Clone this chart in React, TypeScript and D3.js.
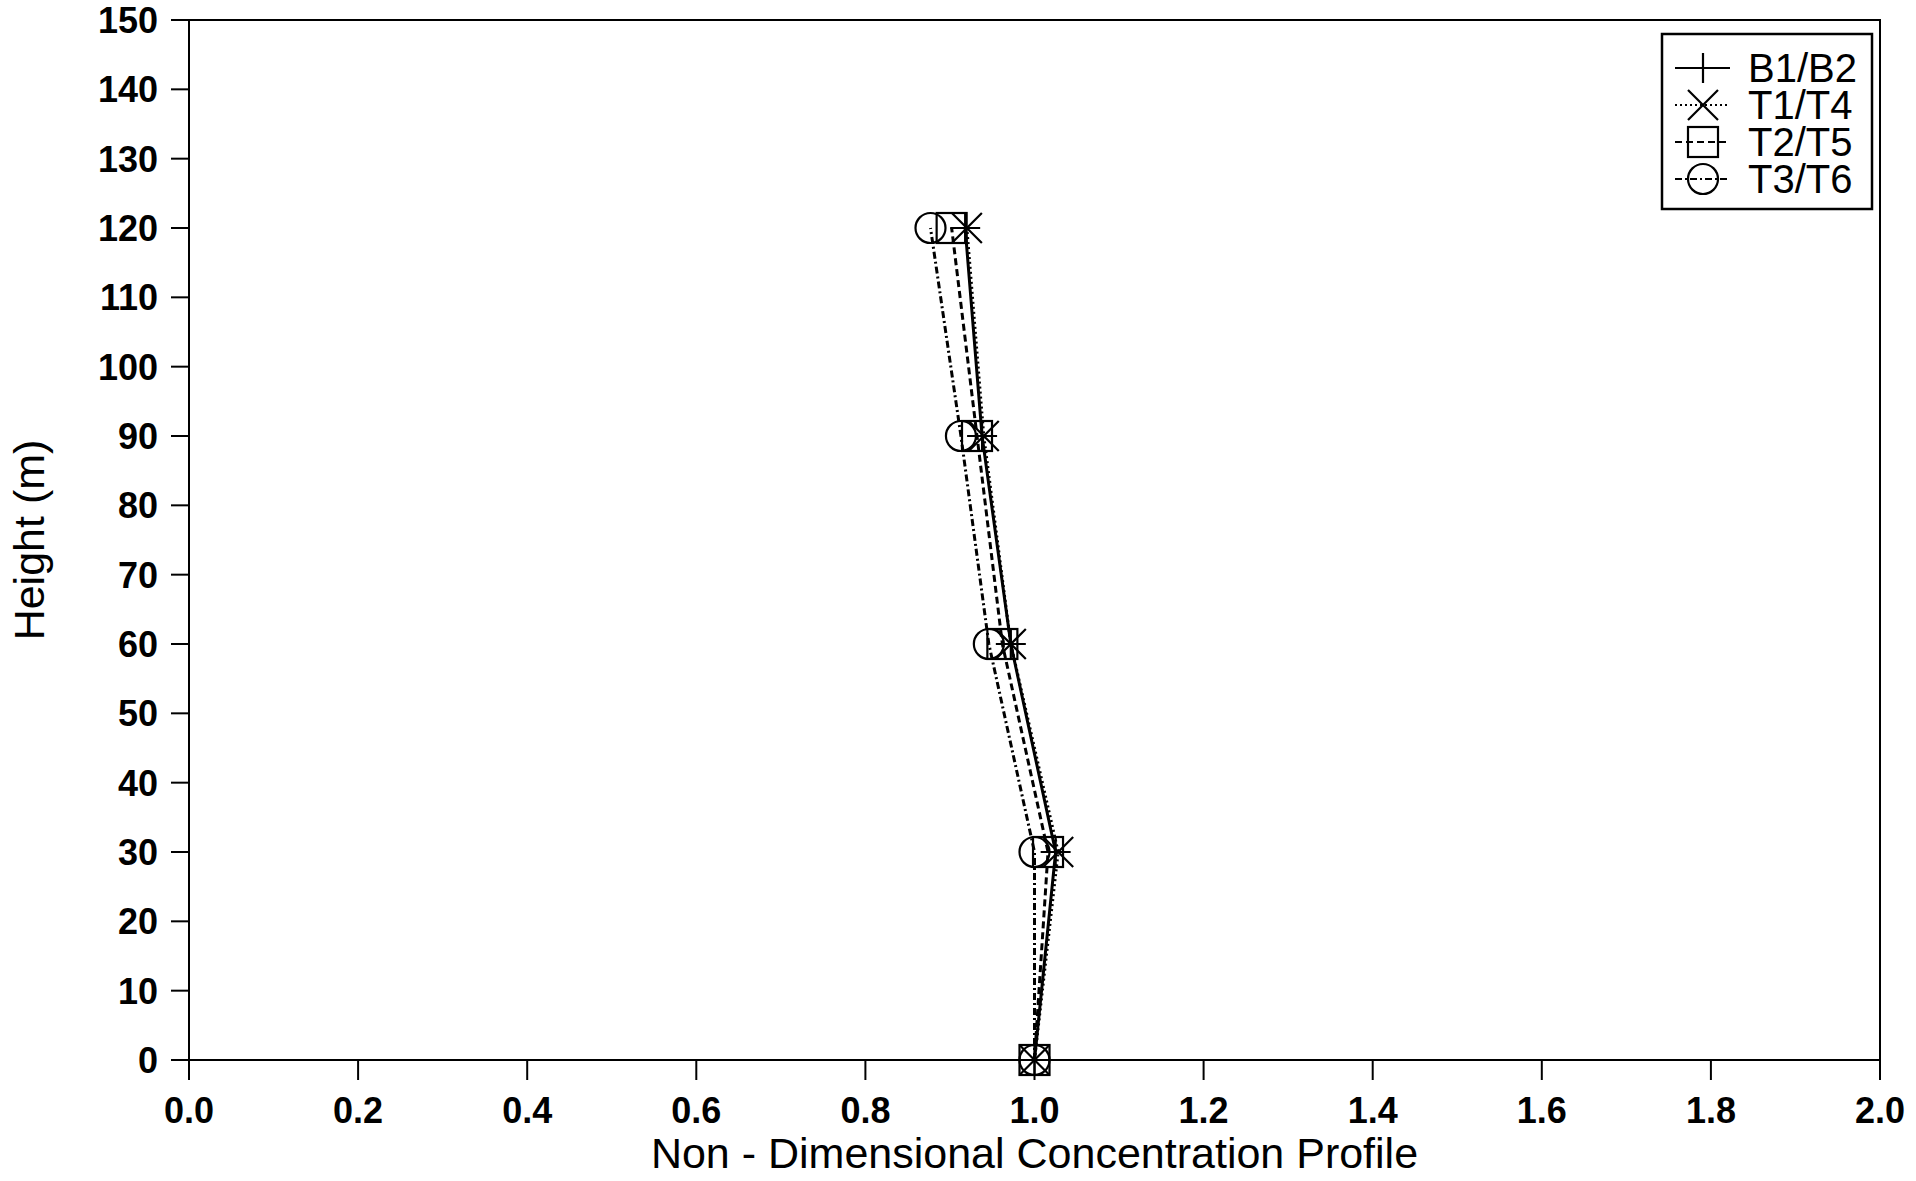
import * as d3 from "d3";

const heights = [0, 30, 60, 90, 120];
const b1b2 = [1.0, 1.025, 0.972, 0.938, 0.918];
const t1t4 = [1.0, 1.028, 0.972, 0.94, 0.92];
const t2t5 = [1.0, 1.016, 0.962, 0.932, 0.902];
const t3t6 = [1.0, 1.0, 0.946, 0.913, 0.877];

const seriesNames = ["B1/B2", "T1/T4", "T2/T5", "T3/T6"];
const seriesValues = [b1b2, t1t4, t2t5, t3t6];
const markers = ["plus", "cross", "square", "circle"];
const dashes = ["none", "2,3", "7,4", "7,3,2,3"];

const xTicks = d3.range(0, 2.01, 0.2);
const yTicks = d3.range(0, 151, 10);

const W = 1916;
const H = 1181;
const left = 189, right = 1880, top = 20, bottom = 1060;
const font = "'Liberation Sans', Arial, sans-serif";

function Marker({ kind, x, y }: { kind: string; x: number; y: number }) {
  const r = 15;
  const st = { stroke: "#000", strokeWidth: 2.2, fill: "none" };
  if (kind === "plus")
    return <path d={`M${x - r},${y}H${x + r}M${x},${y - r}V${y + r}`} {...st} />;
  if (kind === "cross")
    return <path d={`M${x - r},${y - r}L${x + r},${y + r}M${x - r},${y + r}L${x + r},${y - r}`} {...st} />;
  if (kind === "square")
    return <rect x={x - r} y={y - r} width={2 * r} height={2 * r} {...st} />;
  return <circle cx={x} cy={y} r={r} {...st} />;
}

export default function App() {
  const x = d3.scaleLinear().domain([0, 2]).range([left, right]);
  const y = d3.scaleLinear().domain([0, 150]).range([bottom, top]);
  const line = d3
    .line<number>()
    .x((d) => x(d))
    .y((_, i) => y(heights[i]));

  const legX = 1662, legY = 34, legW = 210, legH = 175;

  return (
    <svg
      width={W}
      height={H}
      style={{ position: "absolute", left: 0, top: 0, background: "#fff" }}
      fontFamily={font}
    >
      <rect width={W} height={H} fill="#fff" />
      {/* frame */}
      <rect x={left} y={top} width={right - left} height={bottom - top} fill="none" stroke="#000" strokeWidth={2} />

      {/* y axis */}
      {yTicks.map((t) => (
        <g key={"y" + t}>
          <line x1={left - 18} x2={left} y1={y(t)} y2={y(t)} stroke="#000" strokeWidth={2} />
          <text x={left - 31} y={y(t)} dy="0.36em" textAnchor="end" fontSize={36} fontWeight="bold">
            {t}
          </text>
        </g>
      ))}
      {/* x axis */}
      {xTicks.map((t) => (
        <g key={"x" + t}>
          <line x1={x(t)} x2={x(t)} y1={bottom} y2={bottom + 20} stroke="#000" strokeWidth={2} />
          <text x={x(t)} y={1123} textAnchor="middle" fontSize={36} fontWeight="bold">
            {t.toFixed(1)}
          </text>
        </g>
      ))}

      <text x={(left + right) / 2} y={1168} textAnchor="middle" fontSize={43}>
        Non - Dimensional Concentration Profile
      </text>
      <text
        transform={`translate(44, ${(top + bottom) / 2}) rotate(-90)`}
        textAnchor="middle"
        fontSize={43}
      >
        Height (m)
      </text>

      {/* series */}
      {seriesValues.map((vals, si) => (
        <g key={seriesNames[si]}>
          <path d={line(vals) || ""} fill="none" stroke="#000" strokeWidth={3} strokeDasharray={dashes[si]} />
          {vals.map((v, i) => (
            <Marker key={i} kind={markers[si]} x={x(v)} y={y(heights[i])} />
          ))}
        </g>
      ))}

      {/* legend */}
      <rect x={legX} y={legY} width={legW} height={legH} fill="#fff" stroke="#000" strokeWidth={2.5} />
      {seriesNames.map((name, i) => {
        const cy = 68 + i * 37;
        return (
          <g key={"leg" + name}>
            <line x1={1675} x2={1730} y1={cy} y2={cy} stroke="#000" strokeWidth={2} strokeDasharray={dashes[i]} />
            <Marker kind={markers[i]} x={1703} y={cy} />
            <text x={1748} y={cy} dy="0.36em" fontSize={40}>
              {name}
            </text>
          </g>
        );
      })}
    </svg>
  );
}
